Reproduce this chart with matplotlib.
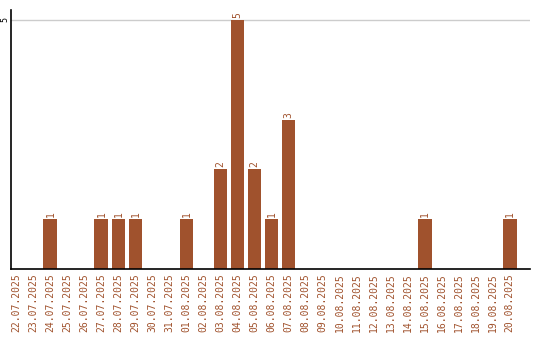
import matplotlib

matplotlib.use("Agg")
import matplotlib.pyplot as plt

dates = [
    "22.07.2025", "23.07.2025", "24.07.2025", "25.07.2025", "26.07.2025",
    "27.07.2025", "28.07.2025", "29.07.2025", "30.07.2025", "31.07.2025",
    "01.08.2025", "02.08.2025", "03.08.2025", "04.08.2025", "05.08.2025",
    "06.08.2025", "07.08.2025", "08.08.2025", "09.08.2025", "10.08.2025",
    "11.08.2025", "12.08.2025", "13.08.2025", "14.08.2025", "15.08.2025",
    "16.08.2025", "17.08.2025", "18.08.2025", "19.08.2025", "20.08.2025",
]
counts = [0, 0, 1, 0, 0, 1, 1, 1, 0, 0, 1, 0, 2, 5, 2, 1, 3, 0, 0, 0,
          0, 0, 0, 0, 1, 0, 0, 0, 0, 1]
y_ticks = [5]

bar_color = "#a0522d"

fig = plt.figure(figsize=(5.4, 3.4), dpi=100)
ax = fig.add_axes([11 / 540, 71 / 340, 519 / 540, 259 / 340])

x = list(range(len(dates)))
ax.bar(x, counts, width=0.82, color=bar_color, zorder=2)
for xi, c in zip(x, counts):
    if c > 0:
        ax.text(xi, c + 0.04, str(c), rotation=90, ha="center", va="bottom",
                color=bar_color, fontsize=7, family="DejaVu Sans Mono")

ax.set_xlim(-0.32, 30.2)
ax.set_ylim(0, 5.2)
ax.set_yticks(y_ticks)
ax.set_yticklabels([str(t) for t in y_ticks], rotation=90, va="center",
                   fontsize=6, family="DejaVu Sans Mono")
ax.tick_params(axis="y", length=0, pad=1)
ax.set_xticks(x)
ax.set_xticklabels(dates, rotation=90, color=bar_color, fontsize=7,
                   family="DejaVu Sans Mono")
ax.tick_params(axis="x", length=0, pad=3)
ax.yaxis.grid(True, color="#cccccc", linewidth=1, zorder=0)
for s in ("top", "right"):
    ax.spines[s].set_visible(False)
for s in ("left", "bottom"):
    ax.spines[s].set_color("black")
    ax.spines[s].set_linewidth(1.2)

fig.savefig("out.png", dpi=100)
